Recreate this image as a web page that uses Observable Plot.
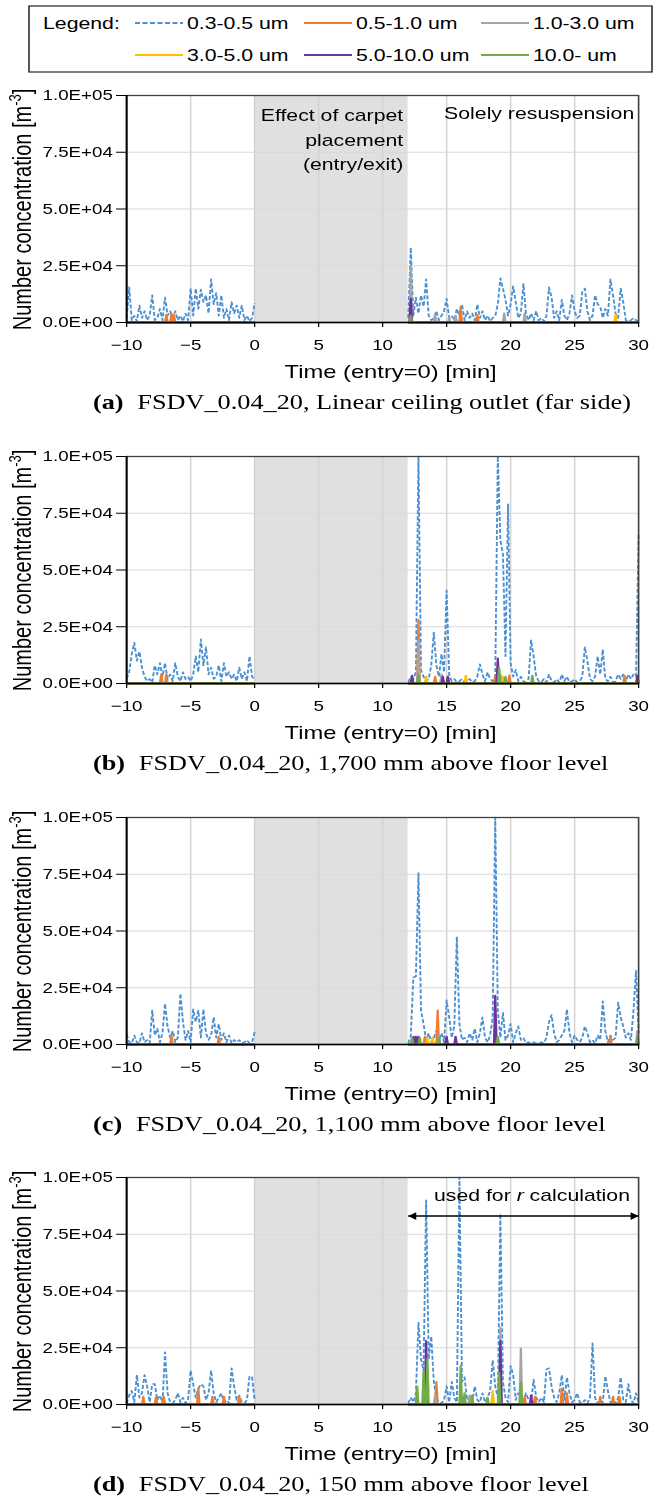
<!DOCTYPE html>
<html><head><meta charset="utf-8">
<script src="https://cdn.jsdelivr.net/npm/d3@7"></script>
<script src="https://cdn.jsdelivr.net/npm/@observablehq/plot@0.6"></script>
<style>
body{margin:0;background:#fff;}
#root{position:relative;width:532.8px;height:1500px;transform:scaleX(1.25);transform-origin:0 0;font-family:"Liberation Sans",Arial,sans-serif;}
.panel{position:absolute;left:0;}
.cap{position:absolute;left:74.4px;font-family:"Liberation Serif","Times New Roman",serif;font-size:21px;line-height:21px;white-space:nowrap;color:#000;}
.cap span{margin-left:11px;}
</style></head><body><div id="root"></div>
<script>
// ---------------- data ----------------
const legendTitle = "Legend:";
const seriesNames = ["0.3-0.5 um","0.5-1.0 um","1.0-3.0 um","3.0-5.0 um","5.0-10.0 um","10.0- um"];
const seriesColors = ["#4a8fd2","#ed7d31","#a5a5a5","#ffc000","#7030a0","#70ad47"];
const xTicks = [-10,-5,0,5,10,15,20,25,30];
const yTicks = [0,25000,50000,75000,100000];
const xGridTicks = [-5,0,5,10,15,20,25];
const yGridTicks = [25000,50000,75000];
const xTitle = "Time (entry=0) [min]";
const yTitle = ["Number concentration [m", "-3", "]"];
const shade = [{x1: 0, x2: 12}];
const preStart = -10, postStart = 12, step = 0.2; // sampling of the 0.3-0.5 um series (min)
const unit = 1000; // values below in 1e3 m^-3

// (a) 0.3-0.5 um
const blueA_pre = [2,15.5,1,3,0.5,7.5,2,5,1,3, 12,1,2,6,1,11,3,5,2,5, 1,3,0.5,4,1,15,3,15,6,14.5,
  9,12,4,19,8,13,3,12,2,6, 1,9,4,7.5,2,7.5,1,3,0.5,2, 8.5];
const blueA_post = [2,33,3,11,4,12,7,19,3,1, 2,5,1,3,5,10.5,2,3,1,6, 3,8,1,5,2,4,1,8,2,5,
  1,3,0.5,2,3,8,19.5,15,10,3, 8,16,9,2,4,17,4,1,4,1, 5,1,2,0.5,3,15.5,11,2,5,1,
  10,3,1,4,12,5,2,3,13.5,15, 5,1,3,12,8,7,2,6,3,19, 12,4,2,15,9,1,0.5,1,2,1, 0.5];
// (a) other sizes: [time, value]
const orangeA = [[-6.9,3.5],[-6.5,4],[-6.3,3.5],[16.1,7],[17.4,3.5]];
const grayA = [[12.2,25],[14.1,3.5],[15.2,2],[15.7,3],[19.5,4],[21.1,4]];
const yellowA = [[28.2,3.5]];
const purpleA = [[12.2,10.5]];
const greenA = [[12.2,3]];

// (b)
const blueB_pre = [2,5,13,18,10,14,7,3,1,2, 0.5,8,4,9,3,9,2,4,1,9, 3,1,5,2,3,1,4,12,5,19.5,
  8,16,4,7,2,3,8,1,9,3, 5,2,4,1,7,2,5,1,12,3, 2];
const blueB_post = [0.5,3,2,5,100,6,3,1,2,8, 22.5,8,3,13,5,41,4,1,2,0.5, 1,2,0.5,1,2,0.5,1,3,8.5,4,
  1,5,2,1,3,100,63,57,12,79, 9,3,6,1,3,1,0.5,2,19,12, 3,1,0.5,2,0.5,4,1,0.5,2,0.5,
  4,1,3,0.5,1,2,0.5,1,3,16, 10,2,1,3,12,4,15,2,1,3, 0.5,1,4,2,4,1,4,2,4,3, 66];
const orangeB = [[-7.3,4],[-6.9,4],[12.8,28],[14.1,3],[15.1,3],[18.8,3.5],[19.9,3.5],[28.9,3.5]];
const grayB = [[12.8,19],[14.6,4],[19.2,4]];
const yellowB = [[13.4,3],[16.5,3.5],[19.4,3]];
const purpleB = [[12.3,3.5],[14.7,3],[15.1,3],[19.0,11],[29.9,3.5]];
const greenB = [[12.8,4],[19.1,7],[19.6,3],[21.7,3.5]];

// (c)
const blueC_pre = [4.5,1,0.5,4,1,0.5,5,1,2,0.5, 15,4,7,1,5,18,8,3,6,1, 3,22.5,10,2,6,1,15.5,10,15,3,
  15.5,5,2,4,12,3,9,2,5,1, 4,0.5,2,1,2,0.5,1,2,0.5,1, 5.5];
const blueC_post = [0.5,4,29.5,30,75.5,15,9,2,5,1, 3,6,2,5,1,19.5,12,3,8,47.5, 9,2,3,1,5,2,7,1,5,12,
  3,1,4,12,100,15,3,14,2,4, 9,1,5,8,2,3,0.5,1,0.5,1, 0.5,0.5,1,0.5,3,10,13,5,1,2,
  4,6,15.5,5,1,4,2,1,3,8, 5,1,2,0.5,4,2,19,6,1,4, 2,3,18.5,12,8,3,5,2,15,32.5, 5];
const orangeC = [[-6.5,4],[-2.8,3.5],[12.5,3],[13.3,3.5],[14.3,15],[27.8,3.5]];
const grayC = [[14.4,4],[18.8,5],[29.9,6]];
const yellowC = [[13.5,3],[13.9,3]];
const purpleC = [[12.4,3.5],[12.6,3.5],[12.8,3.5],[15.0,3.5],[15.7,3.5],[18.8,21.5]];
const greenC = [[12.3,3],[12.9,3],[14.4,3],[19.0,3.5],[29.9,3]];

// (d)
const blueD_pre = [0.5,4,6,1,13,3,5,13,8,1, 9,9,2,4,1,23,5,1,0.5,2, 5,1,3,0.5,2,15,9,3,7,9,
  8,2,5,15,5,1,3,5,1,2, 0.5,16,8,2,4,1,0.5,2,12.5,12, 2];
const blueD_post = [0.5,3,1,5,36,20,15,90,20,30, 10,3,1,0.5,2,8,1,10,3,1, 100,10,12,2,3,1,8,2,1,5,
  1,3,6,19.5,8,3,84,10,3,1, 17,13,2,5,4,1,5,2,1,11, 3,1,3,1,15.5,16,8,3,1,5,
  13,2,12,5,1,2,5,1,0.5,2, 0.5,3,27,3,0.5,2,1,12.5,6,1, 2,0.5,3,12,2,1,9,2,0.5,5, 1];
const orangeD = [[-8.7,3.5],[-7.7,3.5],[-7.1,3.5],[-4.4,7],[-3.3,3.5],[-2.4,3.5],[-1.2,3.5],[14.2,10],[21.1,3.5],[21.9,3.5],[24.0,7],[24.4,5],[27.0,3.5],[28.0,3.5],[28.5,3.5]];
const grayD = [[14.1,4],[16.8,4],[19.2,34],[20.8,24.7]];
const yellowD = [[16.1,3],[18.6,6]];
const purpleD = [[13.4,28],[19.2,28],[21.6,4]];
const greenD = [[12.7,8],[13.2,14.5],[13.5,20],[16.1,17],[16.4,5],[17.0,4],[18.2,3],[19.1,14],[20.8,10]];

const captionLetters = ["(a)","(b)","(c)","(d)"];
const captionTexts = ["FSDV_0.04_20, Linear ceiling outlet (far side)","FSDV_0.04_20, 1,700 mm above floor level",
  "FSDV_0.04_20, 1,100 mm above floor level","FSDV_0.04_20, 150 mm above floor level"];
const noteCarpet = "Effect of carpet\nplacement\n(entry/exit)";
const noteResusp = "Solely resuspension";
const noteR = ["used for ", "r", " calculation"];
const rRange = [{x1: 12, x2: 30}];

// ---------------- layout ----------------
const W = 532.8;
const FONT = '"Liberation Sans", Arial, Helvetica, sans-serif';
const ML = 100.8, MR = W - 510.4, MT = 20, PH = 227, MB = 70;
const panelTops = [95, 456, 817, 1177];

const panels = [
  {pre: blueA_pre, post: blueA_post, minor: [orangeA, grayA, yellowA, purpleA, greenA]},
  {pre: blueB_pre, post: blueB_post, minor: [orangeB, grayB, yellowB, purpleB, greenB]},
  {pre: blueC_pre, post: blueC_post, minor: [orangeC, grayC, yellowC, purpleC, greenC]},
  {pre: blueD_pre, post: blueD_post, minor: [orangeD, grayD, yellowD, purpleD, greenD]}
];

function fmtE(v) {
  const [m, e] = v.toExponential(1).split("e");
  return m + "E" + (+e < 0 ? "-" : "+") + String(Math.abs(+e)).padStart(2, "0");
}
function blueRows(pre, post) {
  const rows = [];
  pre.forEach((v, i) => rows.push({t: +(preStart + i * step).toFixed(2), v: v * unit, seg: "pre"}));
  post.forEach((v, i) => rows.push({t: +(postStart + i * step).toFixed(2), v: v * unit, seg: "post"}));
  return rows;
}
function spikeRows(spikes) {
  const rows = [];
  const add = (list, lo, hi, name) => {
    rows.push({t: lo, v: 0, seg: name});
    for (const [t, v] of list.slice().sort((a, b) => a[0] - b[0])) {
      rows.push({t: Math.max(lo, t - 0.1), v: 0, seg: name}, {t, v: v * unit, seg: name}, {t: Math.min(hi, t + 0.1), v: 0, seg: name});
    }
    rows.push({t: hi, v: 0, seg: name});
  };
  add(spikes.filter(d => d[0] < 6), -10, 0, "pre");
  add(spikes.filter(d => d[0] >= 6), 12, 30, "post");
  return rows;
}
const arrowLeft = {draw(c, s) { const r = Math.sqrt(s / Math.PI); c.moveTo(0, 0); c.lineTo(1.6 * r, -0.95 * r); c.lineTo(1.6 * r, 0.95 * r); c.closePath(); }};
const arrowRight = {draw(c, s) { const r = Math.sqrt(s / Math.PI); c.moveTo(0, 0); c.lineTo(-1.6 * r, -0.95 * r); c.lineTo(-1.6 * r, 0.95 * r); c.closePath(); }};

const root = document.getElementById("root");

// ---------------- legend ----------------
const leg = d3.select(root).append("svg").attr("width", W).attr("height", 80)
  .style("position", "absolute").style("left", "0px").style("top", "0px")
  .attr("font-family", FONT).attr("font-size", 17);
leg.append("rect").attr("x", 23.2).attr("y", 6).attr("width", 498.4).attr("height", 66)
  .attr("fill", "#fff").attr("stroke", "#222").attr("stroke-width", 1.2);
leg.append("text").attr("x", 34.4).attr("y", 23).attr("dy", "0.35em").text(legendTitle);
const legCols = [108, 243.2, 384.8], legRows = [23, 55];
seriesNames.forEach((name, k) => {
  const x0 = legCols[k % 3], y = legRows[Math.floor(k / 3)];
  leg.append("line").attr("x1", x0).attr("x2", x0 + 38.4).attr("y1", y).attr("y2", y)
    .attr("stroke", seriesColors[k]).attr("stroke-width", 2)
    .attr("stroke-dasharray", k === 0 ? "4,2" : null);
  leg.append("text").attr("x", x0 + 41.6).attr("y", y).attr("dy", "0.35em").text(name);
});

// ---------------- panels ----------------
panels.forEach((p, i) => {
  const lineMarks = seriesNames.map((name, k) => {
    const rows = k === 0 ? blueRows(p.pre, p.post) : spikeRows(p.minor[k - 1]);
    return Plot.line(rows, {x: "t", y: "v", z: "seg", stroke: seriesColors[k],
      strokeWidth: k === 0 ? 1.5 : 1.8, strokeDasharray: k === 0 ? "4,2" : undefined,
      strokeLinecap: "butt", strokeLinejoin: "round"});
  });
  const extra = [];
  if (i === 0) {
    extra.push(Plot.text([noteCarpet], {x: shade[0].x2, y: 81300, dx: -4, text: d => d, textAnchor: "end",
      lineAnchor: "middle", lineHeight: 1.44, fontSize: 17, fill: "#000"}));
    extra.push(Plot.text([noteResusp], {x: 30, y: 92100, dx: -3.5, text: d => d, textAnchor: "end",
      lineAnchor: "middle", fontSize: 17, fill: "#000"}));
  }
  if (i === 3) {
    extra.push(Plot.link(rRange, {x1: "x1", x2: "x2", y1: 83000, y2: 83000, stroke: "#000", strokeWidth: 1.5}));
    extra.push(Plot.dot(rRange, {x: "x1", y: 83000, symbol: arrowLeft, r: 4, fill: "#000", stroke: "none"}));
    extra.push(Plot.dot(rRange, {x: "x2", y: 83000, symbol: arrowRight, r: 4, fill: "#000", stroke: "none"}));
  }
  const plot = Plot.plot({
    width: W, height: MT + PH + MB, marginTop: MT, marginBottom: MB, marginLeft: ML, marginRight: MR,
    x: {domain: [-10, 30]}, y: {domain: [0, 100000]},
    style: {fontFamily: FONT, fontSize: "15px", background: "transparent", overflow: "visible", color: "#000"},
    marks: [
      Plot.rect(shade, {x1: "x1", x2: "x2", y1: 0, y2: 100000, fill: "#e0e0e0"}),
      Plot.gridX(xGridTicks, {stroke: "#d2d2d2", strokeOpacity: 1, strokeWidth: 1.2}),
      Plot.gridY(yGridTicks, {stroke: "#d9d9d9", strokeOpacity: 1, strokeWidth: 1.2}),
      ...lineMarks,
      Plot.frame({stroke: "#404040", strokeWidth: 1.3}),
      Plot.ruleY([0], {stroke: "#000", strokeWidth: 1.5}),
      Plot.ruleX([-10], {stroke: "#000", strokeWidth: 1.5}),
      Plot.axisY({ticks: yTicks, tickFormat: fmtE, tickSize: 8, tickPadding: 3, fontSize: 15, label: null, stroke: "#000"}),
      Plot.axisX({ticks: xTicks, tickSize: 5, tickPadding: 11.6, fontSize: 15, label: null, stroke: "#000"}),
      Plot.text([xTitle], {frameAnchor: "bottom", dy: 49, dx: 6.4, text: d => d, lineAnchor: "middle", fontSize: 19, fill: "#000"}),
      ...extra
    ]
  });
  plot.classList.add("panel");
  plot.style.top = (panelTops[i] - MT) + "px";
  root.appendChild(plot);
  const svg = d3.select(plot);
  const yt = svg.append("text")
    .attr("transform", `translate(24.8,${MT + PH / 2 + 1}) rotate(-90)`)
    .attr("text-anchor", "middle").attr("font-family", FONT).attr("font-size", 20).attr("fill", "#000");
  yt.append("tspan").text(yTitle[0]);
  yt.append("tspan").attr("font-size", 13).attr("dy", -8).text(yTitle[1]);
  yt.append("tspan").attr("dy", 8).text(yTitle[2]);
  if (i === 3) {
    const sx = plot.scale("x"), sy = plot.scale("y");
    const t = svg.append("text").attr("x", sx.apply(30) - 6.4).attr("y", sy.apply(92000)).attr("dy", "0.35em")
      .attr("text-anchor", "end").attr("font-family", FONT).attr("font-size", 17).attr("fill", "#000");
    t.append("tspan").text(noteR[0]);
    t.append("tspan").attr("font-style", "italic").text(noteR[1]);
    t.append("tspan").text(noteR[2]);
  }
  const cap = document.createElement("div");
  cap.className = "cap";
  cap.style.top = (panelTops[i] + PH + 82 - 12) + "px";
  const b = document.createElement("b"); b.textContent = captionLetters[i];
  const s = document.createElement("span"); s.textContent = captionTexts[i];
  cap.appendChild(b); cap.appendChild(s);
  root.appendChild(cap);
});
</script></body></html>
